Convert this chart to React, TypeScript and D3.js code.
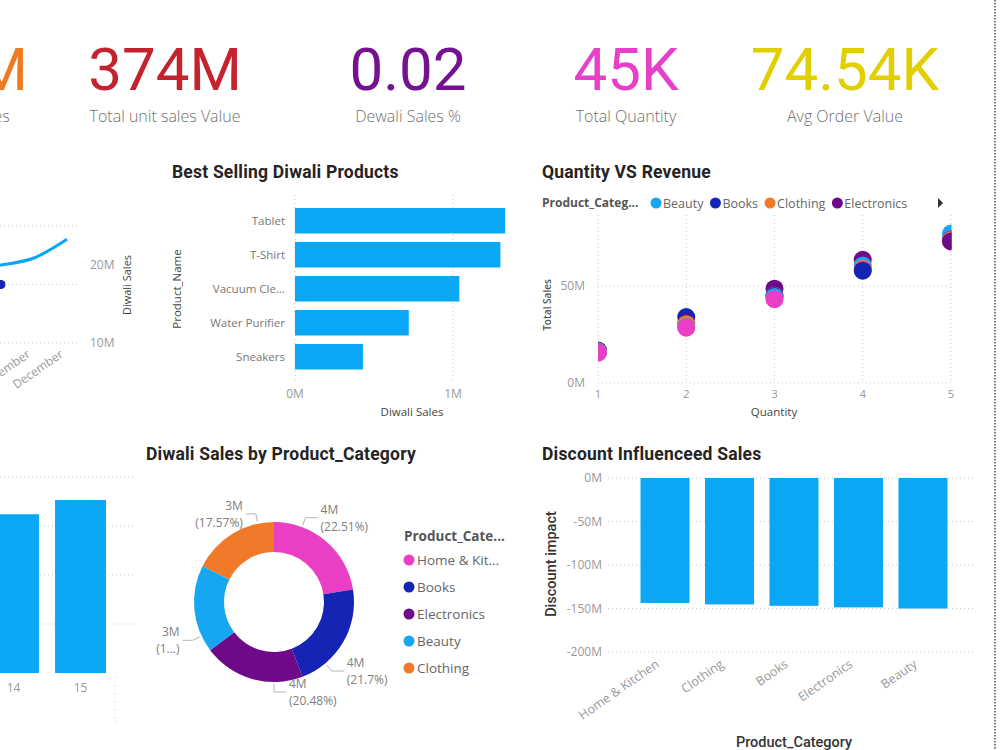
import React, { useEffect, useRef } from 'react';
import * as d3 from 'd3';

// KPI cards
const kpiValues = ['18M', '374M', '0.02', '45K', '74.54K'];
const kpiLabels = ['Diwali Sales', 'Total unit sales Value', 'Dewali Sales %', 'Total Quantity', 'Avg Order Value'];

// Monthly trend (cut off on the left edge)
const trendMonths = ['September', 'October', 'November', 'December'];
const trendSales = [19.5e6, 20.0e6, 20.9e6, 23.3e6];
const trendOrderMonths = ['October'];
const trendOrders = [5000];
const trendOrderTicks = [4000, 5000, 6000];
const trendSalesTicks = [10e6, 20e6];

// Sales by day (cut off on the left edge)
const dayLabels = ['14', '15'];
const daySales = [3.24e6, 3.53e6];
const daySalesTicks = [1e6, 2e6, 3e6, 4e6];

// Best selling products
const products = ['Tablet', 'T-Shirt', 'Vacuum Cleaner', 'Water Purifier', 'Sneakers'];
const productSales = [1.33e6, 1.30e6, 1.04e6, 0.72e6, 0.43e6];
const productTicks = [0, 1e6];

// Quantity vs revenue
const categories = ['Beauty', 'Books', 'Clothing', 'Electronics', 'Home & Kitchen'];
const quantities = [1, 2, 3, 4, 5];
const beautyByQty = [16.0e6, 28.9e6, 44.3e6, 60.6e6, 77.0e6];
const booksByQty = [16.8e6, 34.0e6, 44.8e6, 57.9e6, 74.0e6];
const clothingByQty = [16.2e6, 30.3e6, 45.0e6, 59.0e6, 73.4e6];
const electronicsByQty = [16.5e6, 31.0e6, 48.6e6, 63.5e6, 73.0e6];
const homeByQty = [15.6e6, 28.5e6, 43.2e6, 58.3e6, 73.8e6];
const salesTicks = [0, 50e6];

// Diwali sales by category (donut)
const donutCategories = ['Home & Kitchen', 'Books', 'Electronics', 'Beauty', 'Clothing'];
const donutSales = [4051800, 3906000, 3686400, 3193200, 3162600];

// Discount impact
const discountCategories = ['Home & Kitchen', 'Clothing', 'Books', 'Electronics', 'Beauty'];
const discountImpact = [-143.6e6, -145.3e6, -146.9e6, -148.7e6, -150.0e6];
const discountTicks = [0, -50e6, -100e6, -150e6, -200e6];

const kpiColors = ['#F07A22', '#C4232E', '#74128F', '#E63FC9', '#E2CF00'];
const catColor: Record<string, string> = {
  Beauty: '#17A6F2',
  Books: '#1424B4',
  Clothing: '#F07A2A',
  Electronics: '#6E0A8A',
  'Home & Kitchen': '#EA3FC4',
};
const BAR = '#0AA7F7';
const DIN = "Roboto, 'DejaVu Sans', sans-serif";
const SEGOE = "'Segoe UI', 'Open Sans', sans-serif";

const fmtM = (v: number) => `${Math.round(v / 1e6)}M`;

function dotted(g: any, x1: number, y1: number, x2: number, y2: number) {
  g.append('line')
    .attr('x1', x1).attr('y1', y1).attr('x2', x2).attr('y2', y2)
    .attr('stroke', '#c9c9c9')
    .attr('stroke-dasharray', '1 3');
}

// shorten a label with "..." until it fits
function fitText(sel: any, full: string, maxW: number) {
  sel.text(full);
  const node = sel.node();
  if (node.getComputedTextLength() <= maxW) return;
  let t = full;
  while (t.length > 1) {
    t = t.slice(0, -1);
    sel.text(t.trimEnd() + '...');
    if (node.getComputedTextLength() <= maxW) return;
  }
}

function title(svg: any, x: number, y: number, s: string) {
  svg.append('text')
    .attr('x', x).attr('y', y)
    .attr('font-family', DIN).attr('font-weight', 700).attr('font-size', 17.5)
    .attr('letter-spacing', 0.2)
    .attr('fill', '#252423')
    .text(s);
}

const App: React.FC = () => {
  const svgRef = useRef<SVGSVGElement>(null);

  useEffect(() => {
    if (!svgRef.current) return;
    const svg = d3.select(svgRef.current);
    svg.selectAll('*').remove();

    // ---- KPI cards ----
    const kpiCenters = [-32, 165, 408, 626, 845];
    kpiValues.forEach((v, i) => {
      svg.append('text')
        .attr('x', kpiCenters[i]).attr('y', 90)
        .attr('text-anchor', 'middle')
        .attr('font-family', DIN).attr('font-size', 60)
        .attr('fill', kpiColors[i])
        .text(v);
      svg.append('text')
        .attr('x', kpiCenters[i]).attr('y', 122)
        .attr('text-anchor', 'middle')
        .attr('font-family', SEGOE).attr('font-weight', 300).attr('font-size', 16)
        .attr('fill', '#707070')
        .text(kpiLabels[i]);
    });

    // ---- Trend (partial) ----
    const trend = svg.append('g');
    const tx = d3.scalePoint<string>().domain(trendMonths).range([-32, 67]);
    const tyOrders = d3.scaleLinear().domain([0, 8000]).range([577, 109]);
    const tySales = d3.scaleLinear().domain([0, 30e6]).range([421, 187]);
    trendOrderTicks.forEach(t => dotted(trend, 0, tyOrders(t), 80, tyOrders(t)));
    trendSalesTicks.forEach(t => {
      trend.append('text')
        .attr('x', 90).attr('y', tySales(t) + 4)
        .attr('font-family', SEGOE).attr('font-size', 12).attr('fill', '#999')
        .text(fmtM(t));
    });
    trend.append('text')
      .attr('transform', 'translate(131,285) rotate(-90)')
      .attr('text-anchor', 'middle')
      .attr('font-family', SEGOE).attr('font-size', 11).attr('fill', '#444')
      .text('Diwali Sales');
    const trendLine = d3.line<number>()
      .x((d, i) => tx(trendMonths[i]) as number)
      .y(d => tySales(d))
      .curve(d3.curveMonotoneX);
    trend.append('path')
      .datum(trendSales)
      .attr('d', trendLine)
      .attr('fill', 'none')
      .attr('stroke', BAR)
      .attr('stroke-width', 3);
    trendOrders.forEach((v, i) => {
      trend.append('circle')
        .attr('cx', tx(trendOrderMonths[i]) as number)
        .attr('cy', tyOrders(v))
        .attr('r', 4.5)
        .attr('fill', catColor.Books);
    });
    trendMonths.forEach(m => {
      trend.append('text')
        .attr('transform', `translate(${(tx(m) as number) - 3},356) rotate(-35)`)
        .attr('text-anchor', 'end')
        .attr('font-family', SEGOE).attr('font-size', 12).attr('fill', '#999')
        .text(m);
    });

    // ---- Sales by day (partial) ----
    const days = svg.append('g');
    const dx = d3.scaleBand().domain(dayLabels).range([-20, 114]).paddingInner(0.24).paddingOuter(0.12);
    const dy = d3.scaleLinear().domain([0, 4e6]).range([673, 477]);
    daySalesTicks.forEach(t => dotted(days, 0, dy(t), 133, dy(t)));
    dotted(days, 115, 677, 115, 722);
    dayLabels.forEach((d, i) => {
      days.append('rect')
        .attr('x', dx(d) as number).attr('y', dy(daySales[i]))
        .attr('width', dx.bandwidth()).attr('height', dy(0) - dy(daySales[i]))
        .attr('fill', BAR);
      days.append('text')
        .attr('x', (dx(d) as number) + dx.bandwidth() / 2).attr('y', 692)
        .attr('text-anchor', 'middle')
        .attr('font-family', SEGOE).attr('font-size', 12).attr('fill', '#999')
        .text(d);
    });

    // ---- Best Selling Diwali Products ----
    title(svg, 172, 178, 'Best Selling Diwali Products');
    const best = svg.append('g');
    const bx = d3.scaleLinear().domain([0, 1e6]).range([295, 453]);
    const by = d3.scaleBand().domain(products).range([203.75, 373.75]).paddingInner(0.25).paddingOuter(0.125);
    productTicks.forEach(t => {
      dotted(best, bx(t), 195, bx(t), 380);
      best.append('text')
        .attr('x', bx(t)).attr('y', 398)
        .attr('text-anchor', 'middle')
        .attr('font-family', SEGOE).attr('font-size', 12).attr('fill', '#999')
        .text(fmtM(t));
    });
    products.forEach((p, i) => {
      best.append('rect')
        .attr('x', bx(0)).attr('y', by(p) as number)
        .attr('width', bx(productSales[i]) - bx(0)).attr('height', by.bandwidth())
        .attr('fill', BAR);
      const lab = best.append('text')
        .attr('x', 285).attr('y', (by(p) as number) + by.bandwidth() / 2 + 4)
        .attr('text-anchor', 'end')
        .attr('font-family', SEGOE).attr('font-size', 11.5).attr('fill', '#777');
      fitText(lab, p, 77);
    });
    best.append('text')
      .attr('x', 412).attr('y', 416)
      .attr('text-anchor', 'middle')
      .attr('font-family', SEGOE).attr('font-size', 11.5).attr('fill', '#444')
      .text('Diwali Sales');
    best.append('text')
      .attr('transform', 'translate(181,289) rotate(-90)')
      .attr('text-anchor', 'middle')
      .attr('font-family', SEGOE).attr('font-size', 11.5).attr('fill', '#444')
      .text('Product_Name');

    // ---- Quantity VS Revenue ----
    title(svg, 542, 178, 'Quantity VS Revenue');
    const sc = svg.append('g');
    const sx = d3.scaleLinear().domain([1, 5]).range([598, 951]);
    const sy = d3.scaleLinear().domain([0, 100e6]).range([383, 189]);
    const legTitle = sc.append('text')
      .attr('x', 542).attr('y', 207)
      .attr('font-family', SEGOE).attr('font-weight', 700).attr('font-size', 12).attr('fill', '#555');
    fitText(legTitle, 'Product_Category', 100);
    let lx = 656;
    for (const c of categories) {
      const t = sc.append('text')
        .attr('x', lx + 7).attr('y', 207.5)
        .attr('font-family', SEGOE).attr('font-size', 12.5).attr('fill', '#666')
        .text(c);
      const w = (t.node() as SVGTextElement).getComputedTextLength();
      if (lx + 7 + w > 925) { t.remove(); break; }
      sc.append('circle').attr('cx', lx).attr('cy', 203).attr('r', 5.5).attr('fill', catColor[c]);
      lx = lx + 7 + w + 12;
    }
    sc.append('path').attr('d', 'M938,198 L943,203 L938,208 Z').attr('fill', '#333');

    quantities.forEach(q => dotted(sc, sx(q), 215, sx(q), 383));
    salesTicks.forEach(t => {
      dotted(sc, 598, sy(t), 951, sy(t));
      sc.append('text')
        .attr('x', 585).attr('y', sy(t) + 4)
        .attr('text-anchor', 'end')
        .attr('font-family', SEGOE).attr('font-size', 12).attr('fill', '#999')
        .text(fmtM(t));
    });
    quantities.forEach(q => {
      sc.append('text')
        .attr('x', sx(q)).attr('y', 398)
        .attr('text-anchor', 'middle')
        .attr('font-family', SEGOE).attr('font-size', 11.5).attr('fill', '#999')
        .text(q);
    });
    sc.append('text')
      .attr('x', 774).attr('y', 416)
      .attr('text-anchor', 'middle')
      .attr('font-family', SEGOE).attr('font-size', 11.5).attr('fill', '#444')
      .text('Quantity');
    sc.append('text')
      .attr('transform', 'translate(551,305) rotate(-90)')
      .attr('text-anchor', 'middle')
      .attr('font-family', SEGOE).attr('font-size', 10).attr('font-weight', 600).attr('fill', '#555')
      .text('Total Sales');

    svg.append('clipPath').attr('id', 'scatter-clip')
      .append('rect').attr('x', 598).attr('y', 205).attr('width', 353.5).attr('height', 195);
    const series = [beautyByQty, booksByQty, clothingByQty, electronicsByQty, homeByQty];
    const pts = categories.flatMap((c, ci) => quantities.map((q, qi) => ({ c, q, v: series[ci][qi] })));
    pts.sort((a, b) => b.v - a.v);
    sc.append('g').attr('clip-path', 'url(#scatter-clip)')
      .selectAll('circle')
      .data(pts)
      .join('circle')
      .attr('cx', d => sx(d.q))
      .attr('cy', d => sy(d.v))
      .attr('r', 9)
      .attr('fill', d => catColor[d.c]);

    // ---- Diwali Sales by Product_Category ----
    title(svg, 146, 460, 'Diwali Sales by Product_Category');
    const dn = svg.append('g');
    const cx = 274, cy = 602, outerR = 80, innerR = 50;
    const total = d3.sum(donutSales);
    const pie = d3.pie<number>().sort(null).value(d => d);
    const arcs = pie(donutSales);
    const arc = d3.arc<d3.PieArcDatum<number>>().innerRadius(innerR).outerRadius(outerR);
    const pctFmt = d3.format('.2~%');
    arcs.forEach((a, i) => {
      dn.append('path')
        .attr('transform', `translate(${cx},${cy})`)
        .attr('d', arc(a) as string)
        .attr('fill', catColor[donutCategories[i]]);

      // nudge label angle toward the nearest vertical, like the original layout
      const mid = (a.startAngle + a.endAngle) / 2;
      const target = Math.abs(mid - Math.PI) < Math.PI / 2 ? Math.PI : (mid < Math.PI ? 0 : 2 * Math.PI);
      const diff = target - mid;
      const ang = mid + Math.sign(diff) * Math.min(Math.abs(diff), (20 * Math.PI) / 180);
      const right = Math.sin(ang) > -1e-6;
      const px = (r: number) => cx + r * Math.sin(ang);
      const py = (r: number) => cy - r * Math.cos(ang);
      const x3 = px(90) + (right ? 12 : -10);
      dn.append('polyline')
        .attr('points', `${px(82)},${py(82)} ${px(90)},${py(90)} ${x3},${py(90)}`)
        .attr('fill', 'none')
        .attr('stroke', '#b5b5b5');
      const tX = x3 + (right ? 3 : -3);
      const anchor = right ? 'start' : 'end';
      dn.append('text')
        .attr('x', tX).attr('y', py(90) - 4)
        .attr('text-anchor', anchor)
        .attr('font-family', SEGOE).attr('font-size', 12).attr('fill', '#808080')
        .text(fmtM(donutSales[i]));
      const pct = pctFmt(donutSales[i] / total);
      const pl = dn.append('text')
        .attr('x', tX).attr('y', py(90) + 13)
        .attr('text-anchor', anchor)
        .attr('font-family', SEGOE).attr('font-size', 12).attr('fill', '#808080')
        .text(`(${pct})`);
      const maxW = right ? 515 - tX : tX - 150;
      const node = pl.node() as SVGTextElement;
      if (node.getComputedTextLength() > maxW) {
        let t = pct;
        while (t.length > 1) {
          t = t.slice(0, -1);
          pl.text(`(${t}...)`);
          if (node.getComputedTextLength() <= maxW) break;
        }
      }
    });
    const dlTitle = dn.append('text')
      .attr('x', 404).attr('y', 541)
      .attr('font-family', SEGOE).attr('font-weight', 700).attr('font-size', 13.5).attr('fill', '#555');
    fitText(dlTitle, 'Product_Category', 104);
    donutCategories.forEach((c, i) => {
      const y = 560 + i * 27;
      dn.append('circle').attr('cx', 409).attr('cy', y).attr('r', 5.5).attr('fill', catColor[c]);
      const t = dn.append('text')
        .attr('x', 417).attr('y', y + 5)
        .attr('font-family', SEGOE).attr('font-size', 13.5).attr('fill', '#666');
      fitText(t, c, 86);
    });

    // ---- Discount Influenceed Sales ----
    title(svg, 542, 460, 'Discount Influenceed Sales');
    const ds = svg.append('g');
    const ux = d3.scaleBand().domain(discountCategories).range([626, 962]).paddingInner(0.24).paddingOuter(0.225);
    const uy = d3.scaleLinear().domain([-200e6, 0]).range([652, 478]);
    discountTicks.forEach(t => {
      dotted(ds, 608, uy(t), 975, uy(t));
      ds.append('text')
        .attr('x', 602).attr('y', uy(t) + 4)
        .attr('text-anchor', 'end')
        .attr('font-family', SEGOE).attr('font-size', 12).attr('fill', '#999')
        .text(`${t / 1e6}M`);
    });
    discountCategories.forEach((c, i) => {
      const v = discountImpact[i];
      ds.append('rect')
        .attr('x', ux(c) as number).attr('y', uy(0))
        .attr('width', ux.bandwidth()).attr('height', uy(v) - uy(0))
        .attr('fill', BAR);
      ds.append('text')
        .attr('transform', `translate(${(ux(c) as number) + ux.bandwidth() / 2 - 5},666) rotate(-35)`)
        .attr('text-anchor', 'end')
        .attr('font-family', SEGOE).attr('font-size', 12.5).attr('fill', '#999')
        .text(c);
    });
    ds.append('text')
      .attr('x', 794).attr('y', 747)
      .attr('text-anchor', 'middle')
      .attr('font-family', DIN).attr('font-weight', 500).attr('font-size', 14.5).attr('fill', '#333')
      .text('Product_Category');
    ds.append('text')
      .attr('transform', 'translate(556,564) rotate(-90)')
      .attr('text-anchor', 'middle')
      .attr('font-family', DIN).attr('font-weight', 500).attr('font-size', 14.5).attr('fill', '#333')
      .text('Discount impact');

    // page edge
    svg.append('line')
      .attr('x1', 995).attr('y1', 0).attr('x2', 995).attr('y2', 750)
      .attr('stroke', '#777').attr('stroke-width', 2).attr('stroke-dasharray', '1.5 1.5');
  }, []);

  return (
    <svg
      ref={svgRef}
      width={1000}
      height={750}
      style={{ position: 'absolute', left: 0, top: 0, background: '#fff' }}
    />
  );
};

export default App;
